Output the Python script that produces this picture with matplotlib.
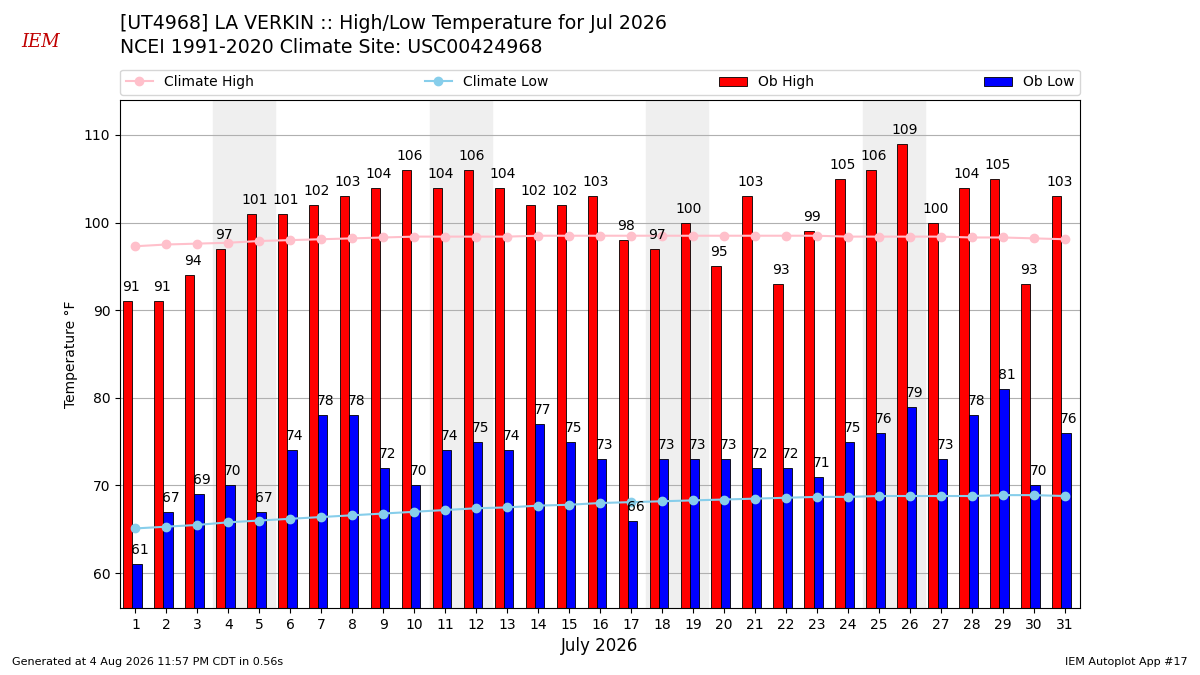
import matplotlib
matplotlib.use("Agg")
import matplotlib.pyplot as plt
import numpy as np

days = list(range(1, 32))
ob_high = [91,91,94,97,101,101,102,103,104,106,104,106,104,102,102,103,98,97,100,95,103,93,99,105,106,109,100,104,105,93,103]
ob_low = [61,67,69,70,67,74,78,78,72,70,74,75,74,77,75,73,66,73,73,73,72,72,71,75,76,79,73,78,81,70,76]
clim_high = [97.3,97.5,97.6,97.7,97.9,98.0,98.1,98.2,98.3,98.4,98.4,98.4,98.4,98.5,98.5,98.5,98.5,98.5,98.5,98.5,98.5,98.5,98.5,98.4,98.4,98.4,98.4,98.3,98.3,98.2,98.1]
clim_low = [65.1,65.3,65.5,65.8,66.0,66.2,66.4,66.6,66.8,67.0,67.2,67.4,67.5,67.7,67.8,68.0,68.1,68.2,68.3,68.4,68.5,68.6,68.7,68.7,68.8,68.8,68.8,68.8,68.9,68.9,68.8]
weekends = [(4, 5), (11, 12), (18, 19), (25, 26)]

fig = plt.figure(figsize=(12, 6.75), dpi=100)
ax = fig.add_axes([0.1, 0.099, 0.8, 0.753])
d = np.array(days)
for a, b in weekends:
    ax.axvspan(a - 0.5, b + 0.5, color="#efefef", zorder=0)
ax.grid(axis="y", color="#b0b0b0", zorder=1)
ax.set_axisbelow(True)
w = 0.3
hl1, = ax.plot(d, clim_high, "-o", color="pink", markersize=6, label="Climate High", zorder=3)
hl2, = ax.plot(d, clim_low, "-o", color="skyblue", markersize=6, label="Climate Low", zorder=3)
b1 = ax.bar(d - 0.4, ob_high, w, align="edge", color="red", edgecolor="black", linewidth=0.6, label="Ob High", zorder=2)
b2 = ax.bar(d - 0.1, ob_low, w, align="edge", color="blue", edgecolor="black", linewidth=0.6, label="Ob Low", zorder=2)
for x, h, l in zip(days, ob_high, ob_low):
    ax.text(x - 0.15, h + 0.8, str(h), ha="center", va="bottom", fontsize=10, zorder=4)
    ax.text(x + 0.15, l + 0.8, str(l), ha="center", va="bottom", fontsize=10, zorder=4)
ax.set_xlim(0.5, 31.5)
ax.set_ylim(56, 114)
ax.set_xticks(days)
ax.set_yticks([60, 70, 80, 90, 100, 110])
ax.set_ylabel("Temperature °F")
ax.set_xlabel("July 2026", fontsize=12)
ax.legend([hl1, hl2, b1, b2], ["Climate High", "Climate Low", "Ob High", "Ob Low"], ncol=4, mode="expand",
          loc="lower left", bbox_to_anchor=(0, 1.01, 1, 0.05), borderaxespad=0, fontsize=10)
fig.text(0.1, 0.965, "[UT4968] LA VERKIN :: High/Low Temperature for Jul 2026", fontsize=13.6, va="center")
fig.text(0.1, 0.929, "NCEI 1991-2020 Climate Site: USC00424968", fontsize=13.6, va="center")
fig.text(0.01, 0.015, "Generated at 4 Aug 2026 11:57 PM CDT in 0.56s", fontsize=8)
fig.text(0.99, 0.015, "IEM Autoplot App #17", fontsize=8, ha="right")
fig.text(0.018, 0.93, "IEM", fontsize=13, color="#c00000", style="italic", family="serif")
fig.savefig("out.png")
